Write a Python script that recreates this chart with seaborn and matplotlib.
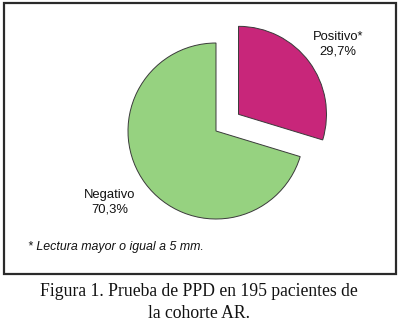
import seaborn as sns
import matplotlib.pyplot as plt
from matplotlib.patches import Rectangle

sns.set_theme(style="white")
plt.rcParams['font.family'] = ['Liberation Sans', 'DejaVu Sans']

# data
categories = ['Positivo', 'Negativo']
percent = [29.7, 70.3]
label_text = ['Positivo*\n29,7%', 'Negativo\n70,3%']
colors = ['#C8267A', '#96D280']

fig = plt.figure(figsize=(4, 3.24), dpi=100)
ax = fig.add_axes([0, 0, 1, 1])

# pie in pixel-like coordinates (y up)
ax.pie(percent, colors=colors, startangle=90, counterclock=False,
       explode=[28, 0], center=(216, 193), radius=88,
       wedgeprops=dict(edgecolor='#3a3a3a', linewidth=0.7))

ax.set_xlim(0, 400)
ax.set_ylim(0, 324)
ax.set_aspect('auto')
ax.axis('off')

# frame around chart
ax.add_patch(Rectangle((4, 50), 392, 271, fill=False, edgecolor='#2a2a2a',
                       linewidth=1.6))

ax.text(338, 280, label_text[0], ha='center', va='center', fontsize=9.4,
        linespacing=1.3, color='#111111')
ax.text(110, 122, label_text[1], ha='center', va='center', fontsize=9.4,
        linespacing=1.3, color='#111111')
ax.text(28, 77, '* Lectura mayor o igual a 5 mm.', ha='left', va='center',
        fontsize=8.9, style='italic', color='#111111')

ax.text(199, 32, 'Figura 1. Prueba de PPD en 195 pacientes de', ha='center',
        va='center', fontsize=12.7, family='Liberation Serif', color='#111111')
ax.text(199, 11, 'la cohorte AR.', ha='center', va='center', fontsize=12.7,
        family='Liberation Serif', color='#111111')

fig.savefig('out.png', dpi=100, facecolor='white')
